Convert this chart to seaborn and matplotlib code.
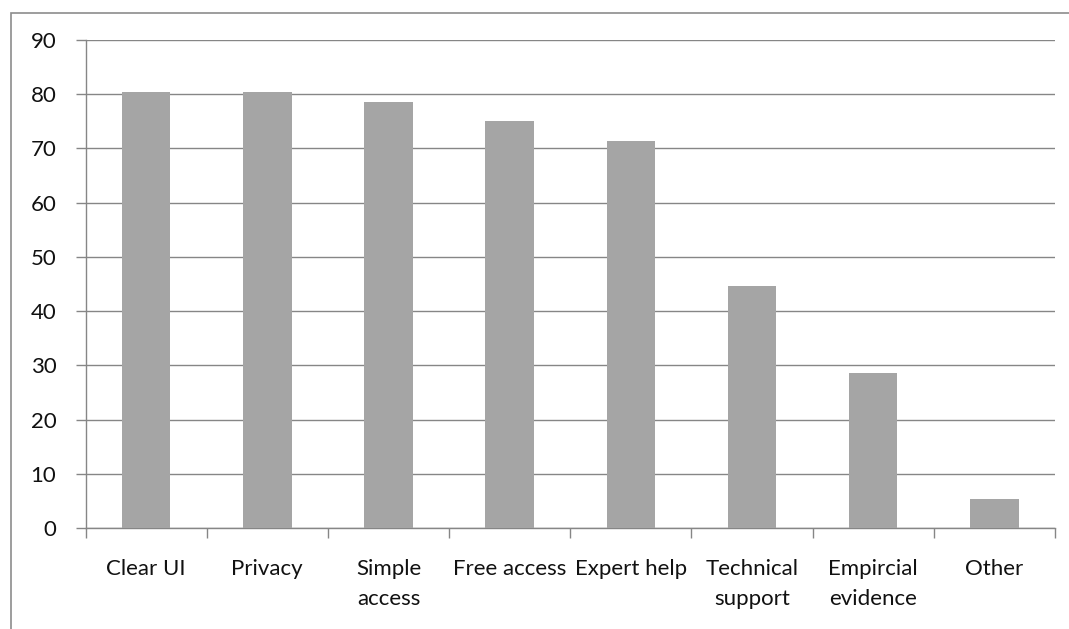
import matplotlib
matplotlib.use("Agg")
import matplotlib.pyplot as plt
import seaborn as sns
import pandas as pd
from matplotlib.patches import Rectangle
from matplotlib.ticker import FixedLocator

categories = ["Clear UI", "Privacy", "Simple\naccess", "Free access", "Expert help",
              "Technical\nsupport", "Empircial\nevidence", "Other"]
values = [80.4, 80.4, 78.6, 75.1, 71.4, 44.6, 28.6, 5.4]
yticks = [0, 10, 20, 30, 40, 50, 60, 70, 80, 90]

sns.set_style("white")
plt.rcParams['font.family'] = ['Lato', 'DejaVu Sans']

df = pd.DataFrame({"cat": categories, "val": values})

fig = plt.figure(figsize=(10.69, 6.29), dpi=100)
ax = fig.add_axes([85.5/1069, 1-528/629, (1055-85.5)/1069, (528-40)/629])

sns.barplot(data=df, x="cat", y="val", color="#a5a5a5", width=0.4, saturation=1,
            ax=ax, zorder=3)
for p in ax.patches:
    p.set_edgecolor("none")

ax.set_xlim(-0.5, len(categories) - 0.5)
ax.set_ylim(0, 90)
ax.set_yticks(yticks)
ax.set_xlabel("")
ax.set_ylabel("")

gc = "#868686"
ax.yaxis.grid(True, color=gc, linewidth=1, zorder=0)
ax.set_axisbelow(True)
for s in ["top", "right"]:
    ax.spines[s].set_visible(False)
for s in ["left", "bottom"]:
    ax.spines[s].set_color(gc)
    ax.spines[s].set_linewidth(1)

ax.xaxis.set_minor_locator(FixedLocator([i - 0.5 for i in range(len(categories) + 1)]))
ax.tick_params(axis="x", which="major", length=0, pad=22, labelsize=16, labelcolor="#111111")
ax.tick_params(axis="x", which="minor", length=7, width=1, color=gc, direction="out", bottom=True)
ax.tick_params(axis="y", length=7, width=1, color=gc, direction="out", left=True,
               labelsize=16, labelcolor="#111111", pad=14)
for lbl in ax.get_xticklabels():
    lbl.set_verticalalignment("top")
    lbl.set_linespacing(1.65)

fig.patches.append(Rectangle((11/1069, -0.1), 1.2, 1 - 13/629 + 0.1,
                             transform=fig.transFigure, fill=False,
                             edgecolor="#8c8c8c", linewidth=1.2, zorder=0))

fig.savefig("out.png", dpi=100)
